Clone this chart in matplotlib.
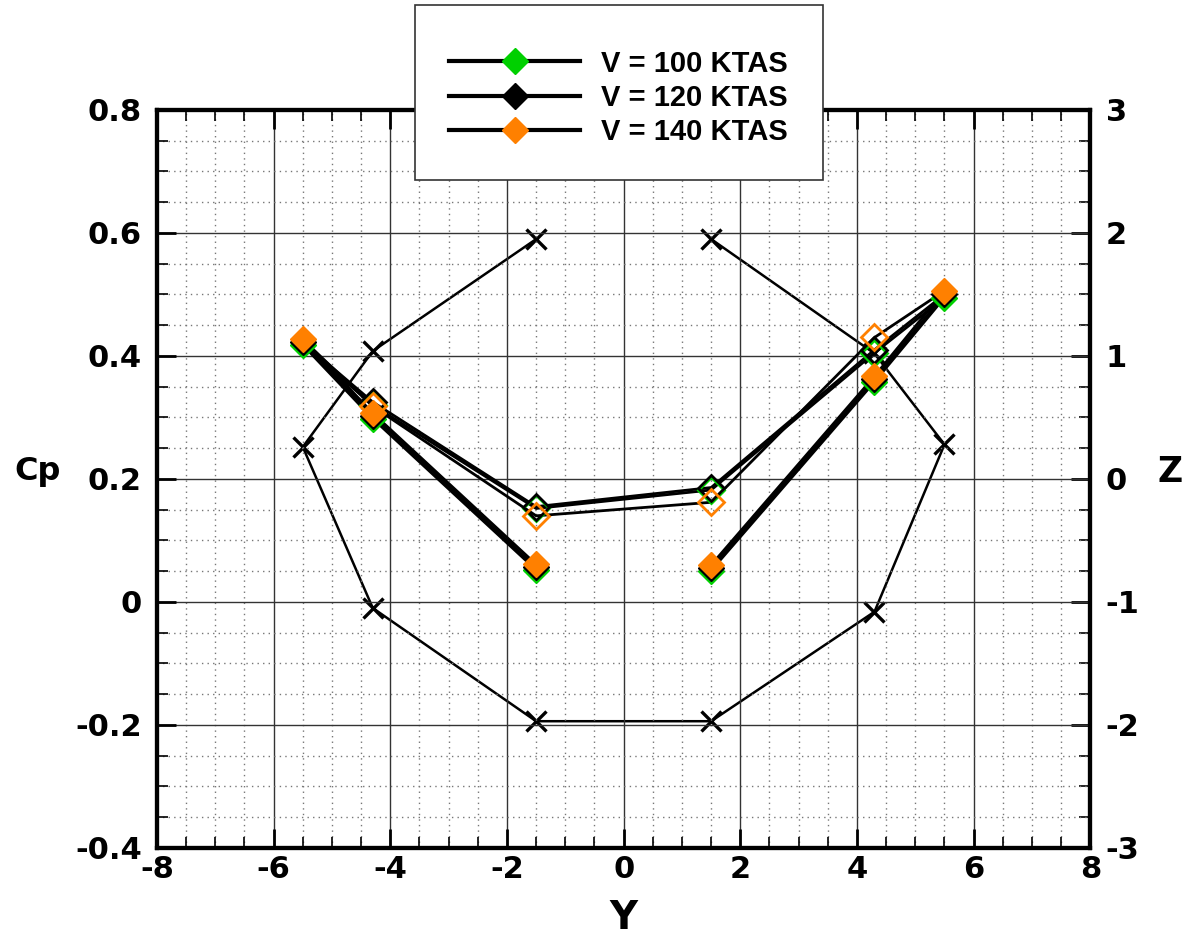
import matplotlib.pyplot as plt
from matplotlib.lines import Line2D
from matplotlib.patches import Rectangle
from matplotlib.ticker import MultipleLocator

plt.rcParams['font.family'] = ['DejaVu Sans']
plt.rcParams['font.weight'] = 'bold'
plt.rcParams['axes.unicode_minus'] = False

# pressure tap positions, path order used for the Cp curves
y_cp = [-1.5, -4.3, -5.5, -4.3, -1.5, 1.5, 4.3, 5.5, 4.3, 1.5]
open_pts = [3, 4, 5, 6]  # taps drawn with hollow markers

cp_100 = [0.052, 0.298, 0.418, 0.320, 0.152, 0.182, 0.405, 0.495, 0.358, 0.051]
cp_120 = [0.056, 0.303, 0.422, 0.325, 0.155, 0.186, 0.410, 0.500, 0.362, 0.055]
cp_140 = [0.061, 0.307, 0.427, 0.318, 0.140, 0.162, 0.430, 0.506, 0.367, 0.060]

labels = ['V = 100 KTAS', 'V = 120 KTAS', 'V = 140 KTAS']
colors = ['#00d000', '#000000', '#ff8000']

# fuselage cross-section (right axis)
y_sec = [-1.5, -4.3, -5.5, -4.3, -1.5, 1.5, 4.3, 5.5, 4.3, 1.5]
z_sec = [1.95, 1.04, 0.26, -1.05, -1.97, -1.97, -1.08, 0.28, 1.02, 1.95]

fig = plt.figure(figsize=(11.89, 9.4), dpi=100)
ax = fig.add_axes([0.132, 0.098, 0.785, 0.785])
ax2 = ax.twinx()

ax.set_xlim(-8, 8)
ax.set_ylim(-0.4, 0.8)
ax2.set_ylim(-3, 3)

ax.xaxis.set_major_locator(MultipleLocator(2))
ax.xaxis.set_minor_locator(MultipleLocator(0.5))
ax.yaxis.set_major_locator(MultipleLocator(0.2))
ax.yaxis.set_minor_locator(MultipleLocator(0.05))
ax2.yaxis.set_major_locator(MultipleLocator(1))
ax2.yaxis.set_minor_locator(MultipleLocator(0.25))

ax.grid(which='major', color='#333333', linewidth=1.0, linestyle='-')
ax.grid(which='minor', color='#777777', linewidth=1.0, linestyle=(0, (1, 3)))

ax.tick_params(which='both', direction='in', top=True, right=False, width=2,
               labelsize=22, pad=11)
ax.tick_params(axis='x', pad=5)
ax.tick_params(which='major', length=14)
ax.tick_params(which='minor', length=8, width=1.2)
ax2.tick_params(which='both', direction='in', width=2, labelsize=22, pad=11)
ax2.tick_params(which='major', length=14)
ax2.tick_params(which='minor', length=8, width=1.2)

ax.yaxis.set_major_formatter(lambda v, p: '0' if abs(v) < 1e-9 else f'{v:.1f}')
ax.xaxis.set_major_formatter(lambda v, p: f'{v:.0f}')
ax2.yaxis.set_major_formatter(lambda v, p: f'{v:.0f}')

for a in (ax, ax2):
    for s in a.spines.values():
        s.set_linewidth(3)

# cross-section outline on Z axis
ax2.plot(y_sec, z_sec, color='black', linewidth=1.8, marker='x',
         markersize=14, markeredgewidth=2.4, zorder=2)

for cp, c in zip([cp_100, cp_120, cp_140], colors):
    ax.plot(y_cp, cp, color='black', linewidth=2, zorder=3)
    filled = [i for i in range(len(y_cp)) if i not in open_pts]
    ax.plot([y_cp[i] for i in filled], [cp[i] for i in filled], linestyle='none',
            marker='D', markersize=13.5, markerfacecolor=c, markeredgecolor=c, zorder=4)
    ax.plot([y_cp[i] for i in open_pts], [cp[i] for i in open_pts], linestyle='none',
            marker='D', markersize=13.5, markerfacecolor='none', markeredgecolor=c,
            markeredgewidth=2, zorder=4)

ax.set_zorder(ax2.get_zorder() + 1)
ax.patch.set_visible(False)

fig.text(0.524, 0.023, 'Y', fontsize=28, fontweight='bold', ha='center', va='center')
fig.text(0.032, 0.498, 'Cp', fontsize=23, fontweight='bold', ha='center', va='center')
fig.text(0.984, 0.498, 'Z', fontsize=25, fontweight='bold', ha='center', va='center')

# legend box sits over the top of the plot
box = Rectangle((0.349, 0.8085), 0.343, 0.186, transform=fig.transFigure,
                facecolor='white', edgecolor='#333333', linewidth=1.2, zorder=5)
fig.patches.append(box)

handles = [Line2D([], [], color='black', linewidth=3, marker='D', markersize=13.5,
                  markerfacecolor=c, markeredgecolor=c) for c in colors]
leg = fig.legend(handles, labels, loc='center', bbox_to_anchor=(0.520, 0.8957),
                 frameon=False, borderpad=0, borderaxespad=0,
                 prop={'family': 'Liberation Sans', 'weight': 'bold', 'size': 21},
                 handlelength=4.5, labelspacing=0.22, handletextpad=0.7)
leg.set_zorder(6)

fig.savefig('out.png', dpi=100)
